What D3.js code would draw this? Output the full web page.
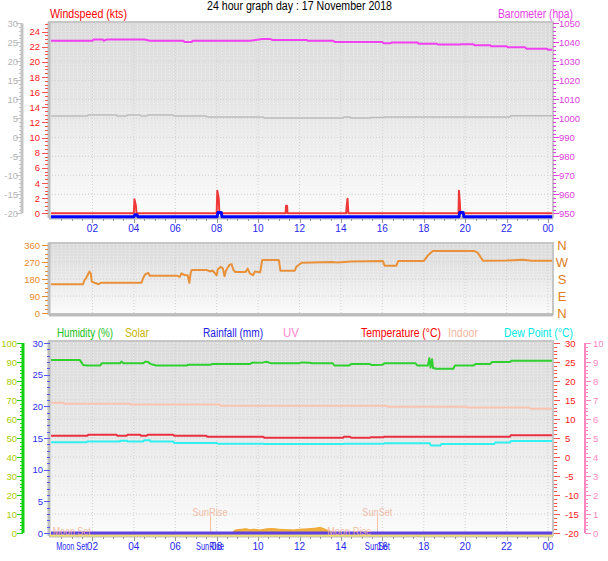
<!DOCTYPE html>
<html><head><meta charset="utf-8">
<script src="https://cdn.jsdelivr.net/npm/d3@7/dist/d3.min.js"></script>
<style>
html,body{margin:0;padding:0;background:#fff;}
svg{display:block;font-family:"Liberation Sans",Arial,sans-serif;}
</style></head>
<body>
<svg id="c" width="608" height="561"></svg>
<script>
// ---------- data (hour of day, value) ----------
const hourTicks = [2,4,6,8,10,12,14,16,18,20,22,24];
const hourLabels = ["02","04","06","08","10","12","14","16","18","20","22","00"];

const windSpeed = [[0,0],[4.0,0],[4.03,1.85],[4.1,1.0],[4.13,0],[8.0,0],[8.03,2.98],[8.1,2.0],[8.13,0],
  [11.33,0],[11.35,1.0],[11.4,1.0],[11.42,0],[14.25,0],[14.28,1.0],[14.32,1.93],[14.36,0],
  [19.68,0],[19.7,2.98],[19.74,1.5],[19.77,0],[24.2,0]];
const windAvg = [[0,0],[4.0,0],[4.05,0.25],[4.15,0.25],[4.2,0],[8.02,0],[8.06,0.55],[8.22,0.55],[8.26,0],
  [19.7,0],[19.74,0.55],[19.9,0.55],[19.94,0],[24.2,0]];
const barometer = [[0,1040.8],[2.0,1040.8],[2.05,1041.5],[2.5,1041.5],[2.55,1040.8],[2.7,1041.5],[4.5,1041.5],
  [4.78,1040.8],[6.39,1040.8],[6.45,1040.2],[6.79,1040.2],[6.85,1040.8],[9.6,1040.8],[10.2,1041.7],[10.6,1041.7],
  [10.7,1041.2],[12.35,1041.2],[12.4,1040.8],[13.63,1040.8],[13.7,1040.2],[16.0,1040.2],[16.06,1039.5],
  [16.4,1039.5],[16.45,1039.9],[17.7,1039.9],[17.75,1039.3],[18.6,1039.3],[18.7,1038.8],[19.75,1038.8],
  [19.8,1039.0],[20.39,1039.0],[20.45,1038.5],[21.2,1038.5],[21.25,1037.9],[22.0,1037.9],[22.05,1037.4],
  [22.9,1037.4],[22.95,1036.6],[23.95,1036.6],[24.0,1036.1],[24.2,1036.1]];
const temperature = [[0,5.6],[1.75,5.6],[1.8,5.87],[3.17,5.87],[3.2,5.6],[3.65,5.6],[3.7,5.87],[4.3,5.87],
  [4.35,5.6],[4.62,5.6],[4.67,5.87],[5.9,5.87],[5.95,5.6],[7.5,5.6],[7.55,5.34],[10.25,5.34],[10.3,5.08],
  [14.1,5.08],[14.15,5.34],[14.44,5.34],[14.5,5.08],[15.4,5.08],[15.45,5.2],[16.05,5.2],[16.1,5.34],
  [22.16,5.34],[22.2,5.7],[24.2,5.7]];
const windDir = [[0,152],[1.55,152],[1.62,175],[1.7,185],[1.85,219],[1.92,210],[1.97,166],[2.1,160],[2.3,152],
  [2.4,160],[4.37,160],[4.45,185],[4.55,205],[4.69,213],[4.77,197],[6.1,197],[6.22,191],[6.3,210],[6.45,200],
  [6.6,200],[6.68,160],[6.75,215],[6.8,228],[7.5,228],[7.7,220],[7.8,225],[8.0,200],[8.05,230],[8.2,245],
  [8.3,235],[8.38,195],[8.45,225],[8.62,255],[8.72,259],[8.8,230],[8.9,217],[9.4,217],[9.5,235],[9.6,210],
  [9.75,200],[9.85,220],[10.1,215],[10.2,281],[11.0,281],[11.08,224],[11.77,224],[11.85,245],[12.1,266],
  [13.6,270],[13.8,268],[14.5,272],[16.03,275],[16.11,250],[16.68,250],[16.76,275],[18.0,275],[18.2,305],
  [18.44,328],[20.45,328],[20.6,320],[20.86,277],[22.0,278],[22.8,282],[23.2,277],[24.2,277]];
const humidity = [[0,91],[1.4,91],[1.55,88.4],[1.75,88.1],[2.37,88.1],[2.45,89.3],[3.33,89.3],[3.4,90.2],
  [3.5,89.3],[4.46,89.3],[4.55,90.2],[4.7,90],[4.8,89],[5.0,88.4],[5.1,88.1],[6.55,88.1],[6.6,88.5],[7.68,88.6],
  [7.8,88.9],[9.6,88.9],[9.7,89.6],[10.25,89.8],[10.4,90.1],[10.6,89.4],[12.0,89.4],[12.1,89.8],[12.5,89.6],
  [12.6,89.3],[13.6,89.3],[13.7,88.1],[14.4,88.2],[14.5,88.9],[15.4,88.9],[15.5,88.4],[16.0,88.5],[16.1,89.3],
  [17.6,89.3],[17.7,88.1],[18.2,88.1],[18.27,92],[18.33,87],[18.4,91.5],[18.45,86.8],[18.6,86.4],[19.43,86.4],
  [19.5,88.1],[20.4,88.1],[20.5,89],[21.2,89],[21.3,90],[22.16,90],[22.25,90.7],[24.2,90.7]];
const indoor = [[0,14.3],[0.6,14.3],[0.65,14.0],[3.8,14.0],[3.85,13.8],[8.16,13.8],[8.2,13.5],[16.2,13.5],
  [16.25,13.2],[20.07,13.2],[20.1,13.0],[23.1,13.0],[23.15,12.7],[24.2,12.7]];
const dewPoint = [[0,3.87],[1.72,3.87],[1.75,4.1],[3.33,4.1],[3.35,4.3],[3.65,4.3],[3.7,4.1],[4.46,4.1],
  [4.5,4.4],[4.78,4.4],[4.8,4.1],[5.9,4.1],[5.95,3.7],[8.0,3.7],[8.05,3.5],[10.25,3.5],[10.3,3.4],[14.1,3.4],
  [14.15,3.5],[16.05,3.5],[16.1,3.6],[18.3,3.6],[18.35,3.0],[18.8,3.0],[18.85,3.4],[21.4,3.4],[21.45,3.8],
  [22.16,3.8],[22.2,4.2],[24.2,4.2]];
const rainfall = [[0,0],[24.2,0]];
const uvIndex = [[0,0],[24.2,0]];
const solar = [[8.8,0],[8.9,8],[9.2,12],[9.4,15],[9.6,10],[9.8,12],[10.1,8],[10.4,14],[10.7,16],[11.0,12],
  [11.3,10],[11.7,8],[12.0,12],[12.4,14],[12.8,18],[13.0,22],[13.2,14],[13.4,4],[13.5,0]];
const events = [
  {name:"Moon Set", hour:1.0, kind:"moon", axis:true, w:38, aw:31},
  {name:"SunRise", hour:7.68, kind:"sun", axis:true, w:35, aw:28},
  {name:"Moon Rise", hour:14.4, kind:"moon", axis:false, w:44, aw:0},
  {name:"SunSet", hour:15.76, kind:"sun", axis:true, w:30, aw:25}];
const compassLabels = ["N","W","S","E","N"];
const compassValues = [360,270,180,90,0];

// ---------- drawing ----------
const svg = d3.select("#c");
const x = d3.scaleLinear().domain([0,24]).range([51,548]);
const X0 = 49, X1 = 553;

const defs = svg.append("defs");
const grad = defs.append("linearGradient").attr("id","bg").attr("x1",0).attr("y1",0).attr("x2",0).attr("y2",1);
grad.append("stop").attr("offset","0%").attr("stop-color","#dcdcdc");
grad.append("stop").attr("offset","40%").attr("stop-color","#e5e5e5");
grad.append("stop").attr("offset","100%").attr("stop-color","#fbfbfb");
const pat = defs.append("pattern").attr("id","dots").attr("width",4).attr("height",3).attr("patternUnits","userSpaceOnUse");
pat.append("rect").attr("x",1).attr("y",1).attr("width",1).attr("height",1).attr("fill","#ffffff").attr("opacity",0.5);

function panel(y0, y1, gridYs) {
  svg.append("rect").attr("x",X0).attr("y",y0).attr("width",X1-X0).attr("height",y1-y0).attr("fill","url(#bg)");
  svg.append("rect").attr("x",X0).attr("y",y0).attr("width",X1-X0).attr("height",y1-y0).attr("fill","url(#dots)");
  const g = svg.append("g");
  g.selectAll("line.h").data(gridYs).join("line")
    .attr("x1",X0).attr("x2",X1).attr("y1",d=>d).attr("y2",d=>d)
    .attr("stroke","#d0d0d0").attr("stroke-dasharray","1,2");
  g.selectAll("line.v").data(hourTicks).join("line")
    .attr("x1",d=>x(d)).attr("x2",d=>x(d)).attr("y1",y0).attr("y2",y1)
    .attr("stroke","#d0d0d0").attr("stroke-dasharray","1,2");
  svg.append("rect").attr("x",X0).attr("y",y0).attr("width",X1-X0).attr("height",y1-y0)
    .attr("fill","none").attr("stroke","#c6c6c6").attr("stroke-width",2);
  svg.append("line").attr("x1",X0).attr("x2",X0).attr("y1",y0).attr("y2",y1+1).attr("stroke","#bdbdbd").attr("stroke-width",3);
  svg.append("line").attr("x1",X0).attr("x2",X1).attr("y1",y1+1).attr("y2",y1+1).attr("stroke","#bdbdbd").attr("stroke-width",3);
}

function vAxis(o) {
  const g = svg.append("g");
  const [d0,d1] = o.scale.domain();
  if (o.line) g.append("line").attr("x1",o.x).attr("x2",o.x).attr("y1",o.scale(d1)).attr("y2",o.scale(d0))
    .attr("stroke",o.lineColor||o.color).attr("stroke-width",o.lineWidth||2);
  const minors = d3.range(d0, d1+1e-9, o.minor);
  const dir = o.side==="left" ? -1 : 1;
  g.selectAll("line.mi").data(minors).join("line")
    .attr("x1",o.x).attr("x2",o.x+dir*3).attr("y1",d=>Math.round(o.scale(d))+0.5).attr("y2",d=>Math.round(o.scale(d))+0.5)
    .attr("stroke",o.tickColor||o.color).attr("stroke-width",1);
  g.selectAll("line.ma").data(o.majors).join("line")
    .attr("x1",o.x).attr("x2",o.x+dir*6).attr("y1",d=>Math.round(o.scale(d))+0.5).attr("y2",d=>Math.round(o.scale(d))+0.5)
    .attr("stroke",o.tickColor||o.color).attr("stroke-width",1);
  g.selectAll("text").data(o.majors).join("text")
    .attr("x",o.labelX).attr("y",d=>o.scale(d)+3.5)
    .attr("text-anchor",o.side==="left"?"end":"start")
    .attr("font-size",o.fs||10).attr("fill",o.labelColor||o.color)
    .text((d,i)=>o.labels?o.labels[i]:d);
}

function hAxisBottom(yb, withEvents) {
  const g = svg.append("g");
  const minors = d3.range(0.5, 24.01, 0.5);
  g.selectAll("line.mi").data(minors).join("line")
    .attr("x1",d=>Math.round(x(d))+0.5).attr("x2",d=>Math.round(x(d))+0.5)
    .attr("y1",yb+2).attr("y2",d=>yb+(d%2===0?6:4)).attr("stroke","#9a9a9a");
  g.selectAll("text").data(hourTicks).join("text")
    .attr("x",d=>x(d)).attr("y",yb+15).attr("text-anchor","middle")
    .attr("font-size",10).attr("fill","#2828f0").text((d,i)=>hourLabels[i]);
  if (withEvents) {
    g.selectAll("text.ev").data(events.filter(e=>e.axis)).join("text")
      .attr("x",d=>x(d.hour)).attr("y",yb+15).attr("text-anchor","middle")
      .attr("font-size",10).attr("fill","#2828f0")
      .attr("textLength",d=>d.aw).attr("lengthAdjust","spacingAndGlyphs").text(d=>d.name);
  }
}

function drawLine(data, sx, sy, color, w, op) {
  svg.append("path").datum(data)
    .attr("d", d3.line().x(d=>sx(d[0])).y(d=>sy(d[1])))
    .attr("fill","none").attr("stroke",color).attr("stroke-width",w).attr("opacity",op||1)
    .attr("stroke-linejoin","round");
}
function label(t, x0, y0, w, color, anchor) {
  svg.append("text").attr("x",x0).attr("y",y0).attr("font-size",12).attr("fill",color)
    .attr("text-anchor",anchor||"start")
    .attr("textLength",w).attr("lengthAdjust","spacingAndGlyphs").text(t);
}

// title
label("24 hour graph day : 17 November 2018", 207, 10, 185, "#000");

// ===== Top panel =====
const T0 = 22, T1 = 217;
const yGray = d3.scaleLinear().domain([-20,30]).range([213.3,23.3]);
const ySpeed = d3.scaleLinear().domain([0,25.1]).range([213.3,23.3]);
const yAvg = d3.scaleLinear().domain([0,25.1]).range([216.7,26.7]);
const yBaro = d3.scaleLinear().domain([950,1050]).range([213.3,23.3]);
panel(T0, T1, d3.range(-15,30,5).map(yGray));
label("Windspeed (kts)", 50, 18, 77, "#ff0000");
label("Barometer (hpa)", 498, 18, 75, "#e83ee8");
vAxis({x:22, scale:yGray, majors:d3.range(-20,31,5), minor:1, color:"#c4c4c4", labelColor:"#b4b4b4", side:"left", labelX:18, line:true, lineWidth:3, fs:9.5});
vAxis({x:48, scale:ySpeed, majors:d3.range(0,25,2), minor:0.5, color:"#ff2020", tickColor:"#ff5050", side:"left", labelX:40, fs:9.5});
vAxis({x:553, scale:yBaro, majors:d3.range(950,1051,10), minor:2, color:"#e040e0", side:"right", labelX:559, fs:9.5});
hAxisBottom(T1, false);
drawLine(temperature, x, yGray, "#bcbcbc", 1.5);
drawLine(barometer, x, yBaro, "#f040f0", 2);
drawLine(windSpeed, x, ySpeed, "#f03838", 2);
drawLine(windAvg, x, yAvg, "#0000ff", 3);

// ===== Middle panel =====
const M0 = 243, M1 = 314;
const yDir = d3.scaleLinear().domain([0,360]).range([313,245]);
panel(M0, M1, [90,180,270].map(yDir));
vAxis({x:48, scale:yDir, majors:[0,90,180,270,360], minor:22.5, color:"#e88a2a", side:"left", labelX:40, fs:9.5});
svg.append("g").selectAll("text").data(compassValues).join("text")
  .attr("x",562).attr("y",d=>yDir(d)+5).attr("text-anchor","middle").attr("font-size",13)
  .attr("fill","#e08020").text((d,i)=>compassLabels[i]);
drawLine(windDir, x, yDir, "#e8913a", 2);

// ===== Bottom panel =====
const B0 = 341, B1 = 535;
const yHum = d3.scaleLinear().domain([0,100]).range([533,343]);
const yRain = d3.scaleLinear().domain([0,30]).range([533,343]);
const yTemp = d3.scaleLinear().domain([-20,30]).range([533,343]);
const yUV = d3.scaleLinear().domain([0,10]).range([533,343]);
const ySolar = d3.scaleLinear().domain([0,1000]).range([533,343]);
panel(B0, B1, d3.range(-15,30,5).map(yTemp));
const heads = [["Humidity (%)",57,56,"#20c020"],["Solar",125,24,"#c8b400"],["Rainfall (mm)",203,60,"#2020e8"],["UV",283,16,"#ff88cc"],
  ["Temperature (°C)",361,80,"#ff0000"],["Indoor",448,30,"#f4b8a0"],["Dew Point (°C)",504,69,"#00e8e8"]];
heads.forEach(h=>label(h[0], h[1], 337, h[2], h[3]));
vAxis({x:23, scale:yHum, majors:d3.range(0,101,10), minor:2, color:"#10d010", labelColor:"#a8cc00", side:"left", labelX:17, line:true, lineWidth:3, fs:9.5});
vAxis({x:50, scale:yRain, majors:d3.range(0,31,5), minor:1, color:"#5a5af0", labelColor:"#3030f0", side:"left", labelX:43, fs:9.5});
vAxis({x:554, scale:yTemp, majors:d3.range(-20,31,5), minor:1, color:"#ff2020", tickColor:"#ff5050", side:"right", labelX:565, fs:9.5});
vAxis({x:585, scale:yUV, majors:d3.range(0,11,1), minor:0.2, color:"#ff88c0", side:"right", labelX:593, line:true, lineWidth:2, fs:9.5});
hAxisBottom(B1, true);

const ev = svg.append("g");
ev.selectAll("line").data(events.filter(e=>e.kind==="sun")).join("line")
  .attr("x1",d=>Math.round(x(d.hour))+0.5).attr("x2",d=>Math.round(x(d.hour))+0.5).attr("y1",516).attr("y2",533)
  .attr("stroke","#f4c0a8");

drawLine(indoor, x, yTemp, "#f8c4b0", 2);
drawLine(humidity, x, yHum, "#30d030", 2);
drawLine(temperature, x, yTemp, "#e83040", 2);
drawLine(dewPoint, x, yTemp, "#30f0f0", 2);
svg.append("path").datum(solar)
  .attr("d", d3.area().x(d=>x(d[0])).y0(ySolar(0)).y1(d=>ySolar(d[1])-1.5))
  .attr("fill","#f0b040").attr("stroke","#f0a830").attr("stroke-width",1);
svg.append("line").attr("x1",X0+1).attr("x2",X1).attr("y1",535.5).attr("y2",535.5).attr("stroke","#f0e070").attr("stroke-width",2);
drawLine(uvIndex, x, yUV, "#ff88c0", 1);
drawLine(rainfall, x, yRain, "#6040e0", 3);

// event labels on top
svg.append("g").selectAll("text").data(events).join("text")
  .attr("x",d=>x(d.hour)).attr("y",d=>d.kind==="sun"?516:535).attr("text-anchor","middle")
  .attr("font-size",11).attr("fill","#f4b8a0").attr("opacity",0.9)
  .attr("textLength",d=>d.w).attr("lengthAdjust","spacingAndGlyphs").text(d=>d.name);
</script>
</body></html>
